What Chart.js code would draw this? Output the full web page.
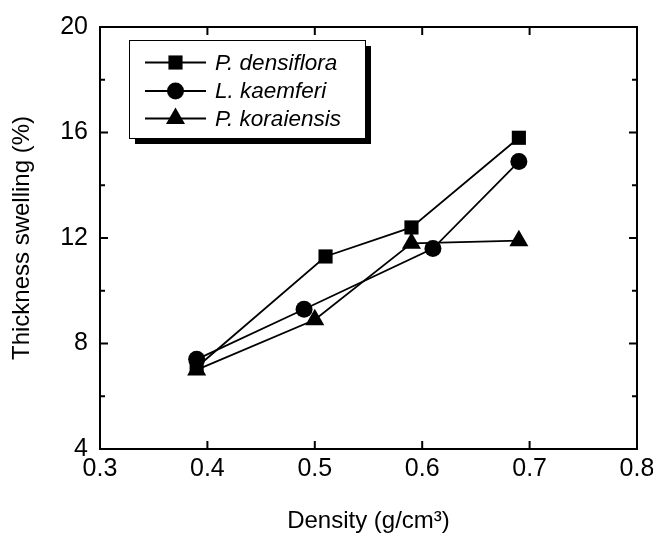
<!DOCTYPE html>
<html>
<head>
<meta charset="utf-8">
<script src="https://cdn.jsdelivr.net/npm/chart.js@4.4.1/dist/chart.umd.min.js"></script>
<style>
  body { margin: 0; background: #fff; }
  canvas { display: block; }
</style>
</head>
<body>
<canvas id="grafico" width="653" height="536"></canvas>
<script>
// dados
const seriesNames = ['P. densiflora', 'L. kaemferi', 'P. koraiensis'];
const densDensiflora = [0.39, 0.51, 0.59, 0.69];
const swellDensiflora = [7.1, 11.3, 12.4, 15.8];
const densKaemferi = [0.39, 0.49, 0.61, 0.69];
const swellKaemferi = [7.4, 9.3, 11.6, 14.9];
const densKoraiensis = [0.39, 0.50, 0.59, 0.69];
const swellKoraiensis = [7.0, 8.9, 11.8, 11.9];
const xTicks = [0.3, 0.4, 0.5, 0.6, 0.7, 0.8];
const yTicks = [4, 8, 12, 16, 20];
const yMinorTicks = [6, 10, 14, 18];

const fonte = "'Liberation Sans', Arial, sans-serif";
const estilos = ['rect', 'circle', 'triangle'];
const raios = [10, 8.5, 11];

function pontos(xs, ys) {
    const out = [];
    for (let i = 0; i < xs.length; i++) {
        out.push({ x: xs[i], y: ys[i] });
    }
    return out;
}

const valores = [
    pontos(densDensiflora, swellDensiflora),
    pontos(densKaemferi, swellKaemferi),
    pontos(densKoraiensis, swellKoraiensis)
];

const datasets = seriesNames.map((nome, i) => ({
    label: nome,
    data: valores[i],
    showLine: true,
    borderColor: '#000',
    borderWidth: 1.8,
    backgroundColor: '#000',
    pointStyle: estilos[i],
    pointRadius: raios[i],
    pointHoverRadius: raios[i],
    pointBorderWidth: 0
}));

// moldura com ticks para dentro
const moldura = {
    id: 'moldura',
    afterDatasetsDraw(chart) {
        const { ctx, chartArea: a, scales: { x, y } } = chart;
        ctx.save();
        ctx.strokeStyle = '#000';
        ctx.lineWidth = 2;
        ctx.strokeRect(a.left, a.top, a.right - a.left, a.bottom - a.top);
        ctx.beginPath();
        xTicks.forEach(v => {
            const px = x.getPixelForValue(v);
            ctx.moveTo(px, a.bottom); ctx.lineTo(px, a.bottom - 8);
            ctx.moveTo(px, a.top); ctx.lineTo(px, a.top + 8);
        });
        yTicks.forEach(v => {
            const py = y.getPixelForValue(v);
            ctx.moveTo(a.left, py); ctx.lineTo(a.left + 8, py);
            ctx.moveTo(a.right, py); ctx.lineTo(a.right - 8, py);
        });
        yMinorTicks.forEach(v => {
            const py = y.getPixelForValue(v);
            ctx.moveTo(a.left, py); ctx.lineTo(a.left + 5, py);
            ctx.moveTo(a.right, py); ctx.lineTo(a.right - 5, py);
        });
        ctx.stroke();
        ctx.restore();
    }
};

// legenda com sombra
const legenda = {
    id: 'legenda',
    afterDatasetsDraw(chart) {
        const ctx = chart.ctx;
        const bx = 129, by = 40, bw = 236, bh = 98;
        ctx.save();
        ctx.fillStyle = '#000';
        ctx.fillRect(bx + 6, by + 6, bw, bh);
        ctx.fillStyle = '#fff';
        ctx.fillRect(bx, by, bw, bh);
        ctx.strokeStyle = '#000';
        ctx.lineWidth = 1;
        ctx.strokeRect(bx + 0.5, by + 0.5, bw, bh);
        const linhas = [62.5, 91, 118.5];
        ctx.font = 'italic 22.5px ' + fonte;
        ctx.textBaseline = 'middle';
        seriesNames.forEach((nome, i) => {
            const yy = linhas[i];
            ctx.strokeStyle = '#000';
            ctx.lineWidth = 1.8;
            ctx.beginPath();
            ctx.moveTo(145, yy);
            ctx.lineTo(206, yy);
            ctx.stroke();
            ctx.fillStyle = '#000';
            Chart.helpers.drawPoint(ctx, { pointStyle: estilos[i], radius: raios[i], borderWidth: 0, rotation: 0 }, 175.5, yy);
            ctx.fillStyle = '#000';
            ctx.fillText(nome, 215, yy + 1);
        });
        ctx.restore();
    }
};

new Chart(document.getElementById('grafico'), {
    type: 'scatter',
    data: { datasets: datasets },
    options: {
        responsive: false,
        animation: false,
        layout: { padding: { top: 20, right: 16, left: 0, bottom: 0 } },
        plugins: {
            legend: { display: false },
            tooltip: { enabled: false }
        },
        scales: {
            x: {
                type: 'linear',
                min: 0.3,
                max: 0.8,
                afterFit(scale) {
                    scale.height = 87;
                    scale.paddingLeft = 0;
                    scale.paddingRight = 0;
                },
                afterBuildTicks(scale) {
                    scale.ticks = xTicks.map(v => ({ value: v }));
                },
                grid: { display: false, drawTicks: false },
                border: { display: false },
                ticks: {
                    padding: 5,
                    color: '#000',
                    font: { family: fonte, size: 25 },
                    maxRotation: 0,
                    callback: v => v.toFixed(1)
                },
                title: {
                    display: true,
                    text: 'Density (g/cm³)',
                    color: '#000',
                    font: { family: fonte, size: 24 },
                    padding: { top: 0, bottom: 0 }
                }
            },
            y: {
                type: 'linear',
                min: 4,
                max: 20,
                afterFit(scale) {
                    scale.width = 100;
                },
                afterBuildTicks(scale) {
                    scale.ticks = yTicks.map(v => ({ value: v }));
                },
                grid: { display: false, drawTicks: false },
                border: { display: false },
                ticks: {
                    padding: 12,
                    color: '#000',
                    font: { family: fonte, size: 25 }
                },
                title: {
                    display: true,
                    text: 'Thickness swelling (%)',
                    color: '#000',
                    font: { family: fonte, size: 24 },
                    padding: { top: 8, bottom: 0 }
                }
            }
        }
    },
    plugins: [moldura, legenda]
});
</script>
</body>
</html>
